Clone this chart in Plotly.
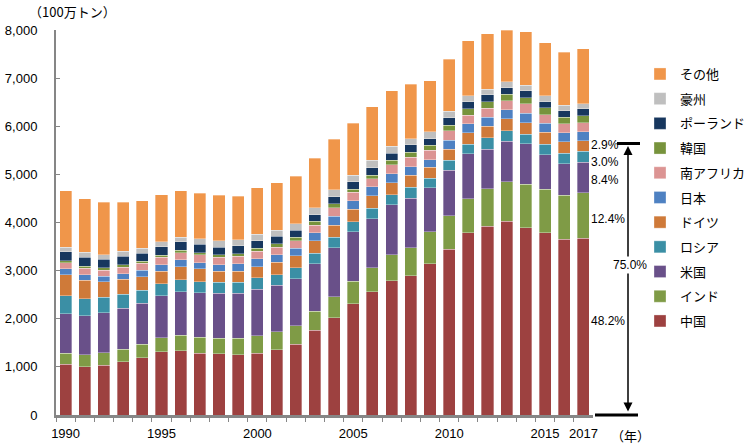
import plotly.graph_objects as go

years = list(range(1990, 2018))

china = [1053, 1004, 1039, 1108, 1191, 1316, 1337, 1288, 1274, 1247, 1281, 1358, 1475, 1766, 2023,
         2307, 2563, 2791, 2895, 3145, 3449, 3782, 3927, 4031, 3893, 3789, 3657, 3670]
india = [228, 243, 256, 263, 277, 291, 319, 326, 319, 346, 361, 374, 381, 395, 436,
         471, 492, 534, 582, 658, 693, 713, 776, 818, 900, 900, 908, 944]
usa = [825, 817, 825, 846, 859, 873, 900, 928, 942, 942, 976, 969, 977, 984, 1018,
       1032, 1025, 1039, 1032, 921, 949, 935, 824, 838, 845, 721, 658, 639]
russia = [367, 353, 325, 291, 264, 249, 256, 229, 222, 222, 229, 215, 229, 221, 215,
          207, 221, 214, 222, 194, 201, 201, 236, 215, 201, 221, 215, 228]
germany = [443, 381, 326, 311, 284, 263, 270, 263, 235, 235, 235, 256, 249, 250, 256,
           257, 257, 250, 249, 229, 235, 236, 242, 249, 236, 243, 235, 221]
japan = [118, 118, 117, 118, 131, 132, 146, 131, 132, 146, 160, 160, 159, 166, 187,
         180, 180, 180, 180, 159, 187, 180, 187, 194, 194, 187, 194, 180]
south_africa = [125, 132, 125, 138, 146, 159, 145, 160, 159, 159, 159, 159, 153, 166, 173,
                173, 173, 194, 201, 194, 188, 180, 187, 180, 194, 180, 180, 187]
korea = [48, 48, 49, 42, 41, 35, 49, 48, 49, 49, 69, 69, 69, 76, 77,
         69, 76, 90, 97, 104, 117, 139, 132, 139, 131, 145, 139, 145]
poland = [187, 187, 173, 180, 173, 180, 173, 180, 152, 166, 146, 153, 145, 139, 152,
          153, 153, 146, 153, 138, 153, 145, 139, 138, 139, 125, 131, 146]
australia = [97, 97, 97, 104, 104, 97, 97, 111, 132, 125, 138, 124, 132, 145, 139,
             138, 152, 145, 131, 146, 138, 125, 124, 118, 118, 118, 118, 111]
others = [1171, 1115, 1087, 1025, 984, 977, 970, 949, 949, 907, 963, 991, 991, 1032, 1052,
          1074, 1115, 1150, 1129, 1053, 1081, 1143, 1150, 1078, 1108, 1108, 1101, 1135]

series_names = ["中国", "インド", "米国", "ロシア", "ドイツ", "日本", "南アフリカ", "韓国", "ポーランド", "豪州", "その他"]
series_values = [china, india, usa, russia, germany, japan, south_africa, korea, poland, australia, others]
series_colors = ["#9D4140", "#7F9B46", "#695089", "#3B8FA5", "#CF7A39", "#4E81C2",
                 "#DC9493", "#77933C", "#17375E", "#BFBFBF", "#F0964A"]

x_tick_years = [1990, 1995, 2000, 2005, 2010, 2015, 2017]
y_tick_values = [0, 1000, 2000, 3000, 4000, 5000, 6000, 7000, 8000]

share_labels = ["2.9%", "3.0%", "8.4%", "12.4%", "48.2%"]
share_label_px_y = [145, 162, 180, 219, 321]
total_share_label = "75.0%"

NUM_FONT = "Liberation Sans, Arial, sans-serif"
JP_FONT = "Noto Sans CJK JP, sans-serif"

fig = go.Figure()
n = len(series_names)
for i, (name, vals, col) in enumerate(zip(series_names, series_values, series_colors)):
    fig.add_trace(go.Bar(
        x=years, y=vals, name=name, legendgroup=name, legendrank=n - i,
        marker=dict(color=col, line=dict(color="rgba(255,255,255,0.55)", width=0.6)),
    ))

# plot area in pixels
L, R, T, B = 56, 593, 30, 415
W, H = R - L, B - T

def px_x(p):
    return (p - L) / W

def px_y(p):
    return (B - p) / H

annotations = [
    dict(text="（100万トン）", x=px_x(27), y=px_y(12), xref="paper", yref="paper",
         xanchor="left", yanchor="middle", showarrow=False,
         font=dict(family=JP_FONT, size=13, color="#000")),
    dict(text="（年）", x=px_x(609), y=px_y(436), xref="paper", yref="paper",
         xanchor="left", yanchor="middle", showarrow=False,
         font=dict(family=JP_FONT, size=13, color="#000")),
]
for lab, py in zip(share_labels, share_label_px_y):
    annotations.append(dict(text=lab, x=px_x(589), y=px_y(py), xref="paper", yref="paper",
                            xanchor="left", yanchor="middle", showarrow=False,
                            font=dict(family=NUM_FONT, size=12, color="#000")))
# double-headed arrow
annotations.append(dict(text="", x=px_x(628), y=px_y(146), ax=0, ay=413 - 146,
                        xref="paper", yref="paper", axref="pixel", ayref="pixel",
                        showarrow=True, arrowhead=2, startarrowhead=2, arrowside="end+start",
                        arrowsize=1.2, arrowwidth=1.5, arrowcolor="#000"))
annotations.append(dict(text=total_share_label, x=px_x(630), y=px_y(265), xref="paper", yref="paper",
                        xanchor="center", yanchor="middle", showarrow=False, bgcolor="#fff",
                        font=dict(family=NUM_FONT, size=12, color="#000")))

shapes = [
    dict(type="line", xref="paper", yref="paper", x0=px_x(617), x1=px_x(640), y0=px_y(143.5), y1=px_y(143.5),
         line=dict(color="#000", width=3)),
    dict(type="line", xref="paper", yref="paper", x0=px_x(595), x1=px_x(638), y0=px_y(415), y1=px_y(415),
         line=dict(color="#000", width=3)),
]

fig.update_layout(
    barmode="stack", bargap=0.37,
    width=751, height=447,
    margin=dict(l=L, r=751 - R, t=T, b=447 - B, autoexpand=False),
    paper_bgcolor="#fff", plot_bgcolor="#fff",
    font=dict(family=NUM_FONT, size=13, color="#000"),
    showlegend=True,
    legend=dict(x=px_x(640), y=px_y(59), xanchor="left", yanchor="top",
                traceorder="grouped", tracegroupgap=4.8,
                font=dict(family=JP_FONT, size=13, color="#000"),
                bgcolor="rgba(0,0,0,0)", itemwidth=30),
    annotations=annotations,
    shapes=shapes,
)
fig.update_xaxes(
    range=[1989.5, 2017.5], tickmode="array", tickvals=x_tick_years,
    ticktext=[str(v) for v in x_tick_years], ticks="", showgrid=False, zeroline=False,
    showline=True, linecolor="#868686", linewidth=3, ticklabelstandoff=4,
    tickfont=dict(family=NUM_FONT, size=13, color="#000"),
    minor=dict(tickvals=[y + 0.5 for y in years[:-1]] + [1989.5], ticks="outside", ticklen=4,
               tickcolor="#868686", tickwidth=1, showgrid=False),
)
fig.update_yaxes(
    range=[0, 8000], tickmode="array", tickvals=y_tick_values,
    ticktext=[f"{v:,}" for v in y_tick_values], ticks="inside", ticklen=4, tickcolor="#868686",
    showgrid=False, zeroline=False, showline=True, linecolor="#868686", linewidth=2,
    ticklabelstandoff=14, tickfont=dict(family=NUM_FONT, size=13, color="#000"),
)

fig.write_html("out.html", config={"displayModeBar": False},
               post_script="document.body.style.margin='0';")
